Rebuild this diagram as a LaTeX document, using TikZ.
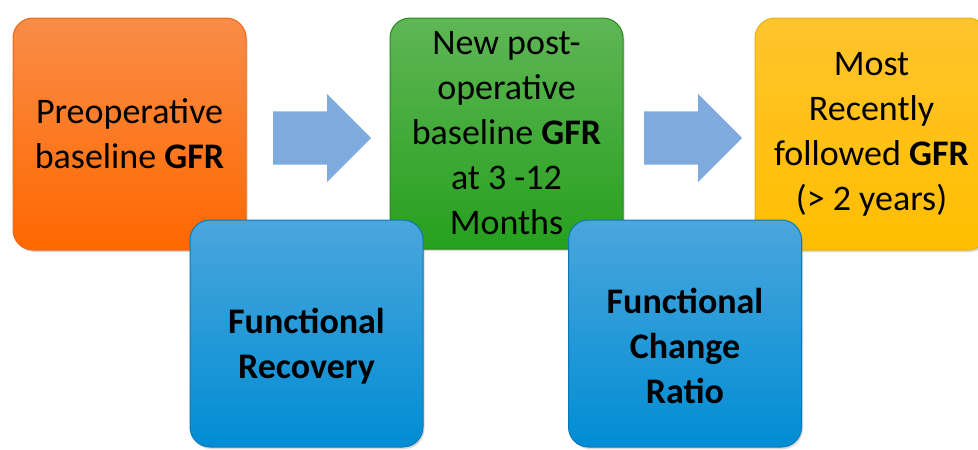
\documentclass[tikz,border=0pt]{standalone}
\usepackage{fontspec}
\setmainfont{Carlito}
\usetikzlibrary{shapes.arrows,shadows}

\definecolor{orangeTop}{RGB}{249,140,72}
\definecolor{orangeBot}{RGB}{255,104,0}
\definecolor{orangeEdge}{RGB}{235,105,25}
\definecolor{greenTop}{RGB}{95,182,85}
\definecolor{greenBot}{RGB}{38,160,30}
\definecolor{greenEdge}{RGB}{40,135,32}
\definecolor{yellowTop}{RGB}{255,196,45}
\definecolor{yellowBot}{RGB}{255,190,0}
\definecolor{yellowEdge}{RGB}{235,175,15}
\definecolor{blueTop}{RGB}{75,166,220}
\definecolor{blueBot}{RGB}{0,141,212}
\definecolor{blueEdge}{RGB}{10,120,185}
\definecolor{arrowBlue}{RGB}{126,170,221}

\tikzset{
  card/.style={rounded corners=20pt, minimum width=233pt, inner sep=0pt,
    align=center, font=\fontsize{36}{45}\selectfont, text=black,
    line width=1pt,
    drop shadow={shadow xshift=1.5pt, shadow yshift=-2pt, opacity=0.3}},
  stepcard/.style={card, minimum height=232pt},
  measure/.style={card, minimum height=227pt, font=\bfseries\fontsize{36}{45}\selectfont},
  flow/.style={single arrow, fill=arrowBlue, draw=none, inner xsep=0pt, inner ysep=26.5pt,
    minimum height=98pt, single arrow head extend=17.5pt, single arrow tip angle=90,
    anchor=tail}
}
% multi-line label set a little below the middle of its box
\newcommand{\lowered}[1]{\raisebox{-19pt}[0pt][0pt]{\parbox{220pt}{\centering #1}}}

\begin{document}
\begin{tikzpicture}[x=1pt, y=-1pt]
  \useasboundingbox (0,0) rectangle (978,450);
  \clip (0,0) rectangle (978,450);

  % stages of kidney function follow-up
  \node[stepcard, top color=orangeTop, bottom color=orangeBot, draw=orangeEdge]
    (pre) at (129.5,134) {Preoperative\\baseline \textbf{GFR}};
  \node[flow] (a1) at (273,138) {};
  \node[stepcard, minimum height=231pt, top color=greenTop, bottom color=greenBot, draw=greenEdge]
    (post) at (506.5,133.5) {New post-\\operative\\baseline \textbf{GFR}\\at 3 -12\\Months};
  \node[flow] (a2) at (644,138) {};
  \node[stepcard, top color=yellowTop, bottom color=yellowBot, draw=yellowEdge]
    (late) at (871.5,134) {Most\\Recently\\followed \textbf{GFR}\\(> 2 years)};

  % derived measures
  \node[measure, top color=blueTop, bottom color=blueBot, draw=blueEdge]
    (rec) at (306.5,333.5) {\lowered{Functional\\Recovery}};
  \node[measure, top color=blueTop, bottom color=blueBot, draw=blueEdge]
    (ratio) at (685,333.5) {\lowered{Functional\\Change\\Ratio}};
\end{tikzpicture}
\end{document}
